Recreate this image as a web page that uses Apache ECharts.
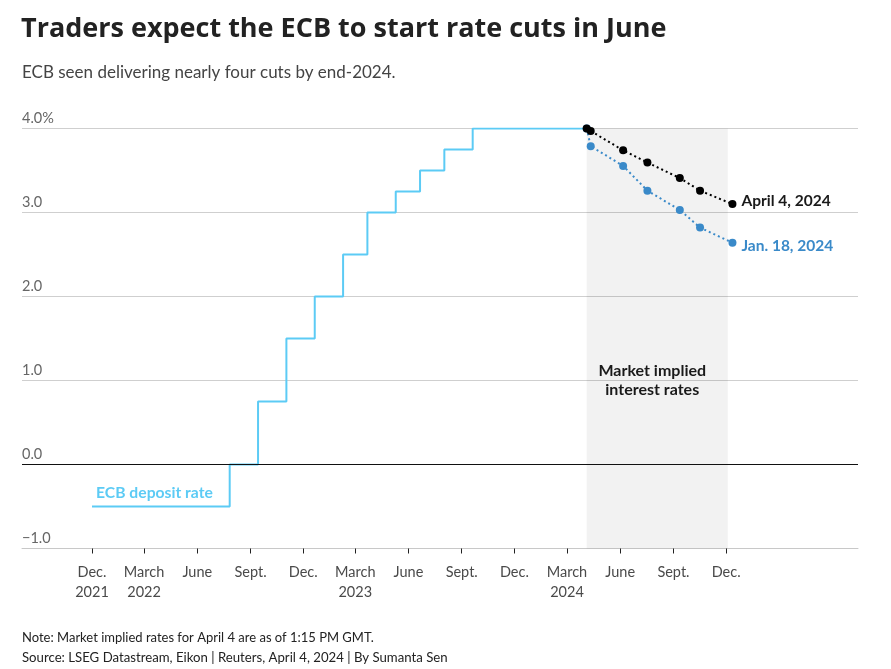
<!DOCTYPE html>
<html>
<head>
<meta charset="utf-8">
<script src="https://cdn.jsdelivr.net/npm/echarts@6.0.0/dist/echarts.min.js"></script>
<style>
html,body{margin:0;padding:0;background:#fff;}
#chart{width:891px;height:669px;}
</style>
</head>
<body>
<div id="chart"></div>
<script>
// ---- Data ----
const depositDates = ['2021-12-01','2022-07-27','2022-09-14','2022-11-02','2022-12-21','2023-02-08','2023-03-22','2023-05-10','2023-06-21','2023-08-02','2023-09-20','2024-04-04'];
const depositRates = [-0.5, 0, 0.75, 1.5, 2.0, 2.5, 3.0, 3.25, 3.5, 3.75, 4.0, 4.0];

const meetingDates = ['2024-04-04','2024-04-11','2024-06-06','2024-07-18','2024-09-12','2024-10-17','2024-12-12'];
const impliedApr4 = [4.0, 3.97, 3.74, 3.595, 3.41, 3.26, 3.10];
const impliedJan18 = [4.0, 3.79, 3.555, 3.26, 3.03, 2.82, 2.64];

const xTickDates = ['2021-12-01','2022-03-01','2022-06-01','2022-09-01','2022-12-01','2023-03-01','2023-06-01','2023-09-01','2023-12-01','2024-03-01','2024-06-01','2024-09-01','2024-12-01'];
const xTickLabels = ['Dec.\n2021','March\n2022','June','Sept.','Dec.','March\n2023','June','Sept.','Dec.','March\n2024','June','Sept.','Dec.'];
const yTickValues = [-1, 0, 1, 2, 3, 4];
const yTickLabels = ['\u22121.0','0.0','1.0','2.0','3.0','4.0%'];

const shadeRange = ['2024-04-04','2024-12-04'];
const xRange = ['2021-08-02','2025-07-17'];

const FONT = 'Lato';
// dates -> day numbers (UTC days since epoch) on a numeric axis
const dn = d => Date.UTC(+d.slice(0,4), +d.slice(5,7) - 1, +d.slice(8,10)) / 86400000;
const xTickDays = xTickDates.map(dn);

const chart = echarts.init(document.getElementById('chart'), null, {renderer: 'canvas'});

const option = {
  backgroundColor: '#fff',
  animation: false,
  textStyle: {fontFamily: FONT},
  title: [
    {text: 'Traders expect the ECB to start rate cuts in June', left: 21, top: 16, padding: 0,
     textStyle: {fontFamily: 'Open Sans', fontSize: 27, fontWeight: 'bold', color: '#222'}},
    {text: 'ECB seen delivering nearly four cuts by end-2024.', left: 22, top: 64, padding: 0,
     textStyle: {fontFamily: FONT, fontSize: 17, fontWeight: 'normal', color: '#444'}},
    {text: 'Note: Market implied rates for April 4 are as of 1:15 PM GMT.', left: 22, top: 631, padding: 0,
     textStyle: {fontFamily: FONT, fontSize: 13, fontWeight: 'normal', color: '#222'}},
    {text: 'Source: LSEG Datastream, Eikon | Reuters, April 4, 2024 | By Sumanta Sen', left: 22, top: 651, padding: 0,
     textStyle: {fontFamily: FONT, fontSize: 13.2, fontWeight: 'normal', color: '#222'}}
  ],
  grid: {left: 22, right: 33, top: 128.5, bottom: 120.5, containLabel: false},
  xAxis: {
    type: 'value',
    min: dn(xRange[0]), max: dn(xRange[1]),
    axisLine: {show: true, onZero: false, lineStyle: {color: '#c8c8c8', width: 1}},
    axisTick: {show: true, customValues: xTickDays, length: 5, lineStyle: {color: '#222', width: 1}},
    axisLabel: {
      show: true, customValues: xTickDays, margin: 14,
      fontFamily: FONT, fontSize: 14.5, color: '#4a4a4a', lineHeight: 20,
      formatter: function (v) {
        let best = 0, bd = Infinity;
        xTickDays.forEach((t, i) => { const d = Math.abs(t - v); if (d < bd) { bd = d; best = i; } });
        return xTickLabels[best];
      }
    },
    splitLine: {show: false}
  },
  yAxis: {
    type: 'value', min: -1, max: 4, interval: 1,
    axisLine: {show: false}, axisTick: {show: false},
    axisLabel: {
      inside: true, margin: 0, verticalAlign: 'bottom', padding: [0, 0, 3, 0],
      fontFamily: FONT, fontSize: 14.5, color: '#666',
      formatter: function (v) { const i = yTickValues.indexOf(v); return i >= 0 ? yTickLabels[i] : ''; }
    },
    splitLine: {show: true, lineStyle: {color: '#cfcfcf', width: 1}}
  },
  series: [
    {
      name: 'ECB deposit rate', type: 'line', step: 'end',
      data: depositDates.map((d, i) => [dn(d), depositRates[i]]),
      showSymbol: false, symbol: 'none',
      lineStyle: {color: '#5ccbf5', width: 2},
      z: 3,
      markLine: {
        silent: true, symbol: ['none', 'none'], label: {show: false},
        lineStyle: {color: '#111', width: 1, type: 'solid'},
        data: [{yAxis: 0}]
      },
      markPoint: {
        silent: true, symbol: 'circle', symbolSize: 0.1,
        itemStyle: {color: 'rgba(0,0,0,0)'},
        label: {show: true, position: 'right', distance: 0, offset: [4, -14],
                formatter: 'ECB deposit rate', fontFamily: FONT, fontSize: 15.7, fontWeight: 'bold', color: '#5ccbf5'},
        data: [{coord: [dn(depositDates[0]), depositRates[0]]}]
      }
    },
    {
      name: 'Jan. 18, 2024', type: 'line',
      data: meetingDates.map((d, i) => [dn(d), impliedJan18[i]]),
      symbol: 'circle', symbolSize: 8, showSymbol: true,
      itemStyle: {color: '#3a8ac9'},
      lineStyle: {color: '#3a8ac9', width: 2, type: [2, 3]},
      z: 4,
      endLabel: {show: true, formatter: 'Jan. 18, 2024', distance: 9, offset: [0, 3],
                 fontFamily: FONT, fontSize: 15.5, fontWeight: 'bold', color: '#3a8ac9'},
      markArea: {
        silent: true,
        itemStyle: {color: 'rgba(0,0,0,0.052)'},
        label: {show: true, position: 'inside', offset: [-5, 42],
                formatter: 'Market implied\ninterest rates', fontFamily: FONT, fontSize: 16,
                fontWeight: 'bold', color: '#1a1a1a', lineHeight: 19},
        data: [[{xAxis: dn(shadeRange[0])}, {xAxis: dn(shadeRange[1])}]]
      }
    },
    {
      name: 'April 4, 2024', type: 'line',
      data: meetingDates.map((d, i) => [dn(d), impliedApr4[i]]),
      symbol: 'circle', symbolSize: 8, showSymbol: true,
      itemStyle: {color: '#000'},
      lineStyle: {color: '#000', width: 2, type: [2, 3]},
      z: 5,
      endLabel: {show: true, formatter: 'April 4, 2024', distance: 9, offset: [0, -3],
                 fontFamily: FONT, fontSize: 15.5, fontWeight: 'bold', color: '#1a1a1a'}
    }
  ]
};
chart.setOption(option);
</script>
</body>
</html>
